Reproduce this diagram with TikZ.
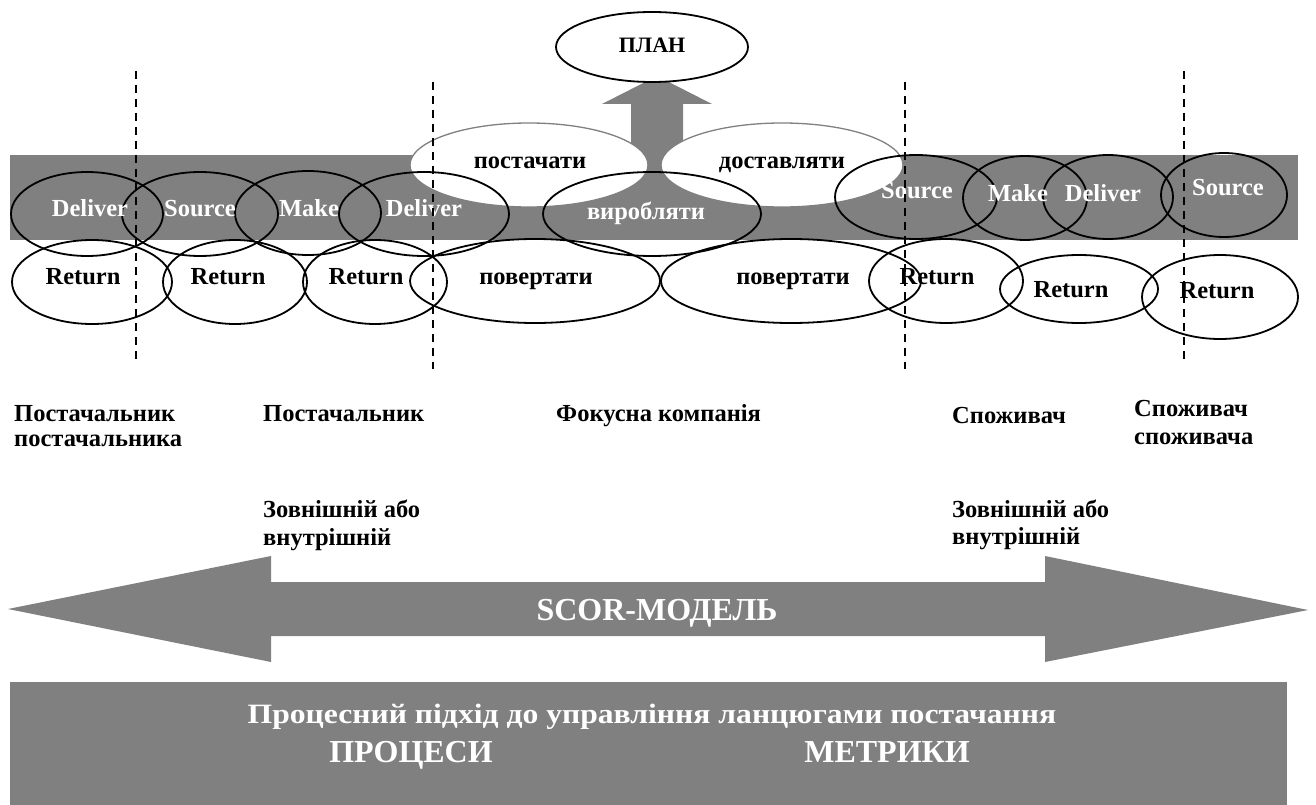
\documentclass[tikz,border=0pt]{standalone}
\usepackage{fontspec}
\usepackage{graphicx}
\setmainfont{Liberation Serif}
\usetikzlibrary{shapes.geometric}
\definecolor{band}{HTML}{808080}
\begin{document}
\begin{tikzpicture}[x=1pt,y=-1pt,
  ell/.style={ellipse, draw=black, line width=1.8pt, inner sep=0pt},
  wel/.style={ellipse, draw=band, fill=white, line width=1.3pt, inner sep=0pt},
  txt/.style={font=\fontsize{24.5}{28}\selectfont\bfseries, inner sep=0pt, text height=16pt, text depth=0pt},
  wt/.style={txt, text=white},
  bt/.style={txt, text=black},
  lbl/.style={font=\fontsize{24.5}{28}\selectfont\bfseries, inner sep=0pt, anchor=base west},
  big/.style={font=\fontsize{#1}{#1}\selectfont\bfseries, text=white, inner sep=0pt, anchor=base},
  dsh/.style={line width=1.8pt, dash pattern=on 8pt off 6pt},
]
\useasboundingbox[fill=white] (0,0) rectangle (1316,805);

% gray band
\fill[band] (10,155) rectangle (1298,240);
% up arrow to plan
\fill[band] (631,156) -- (631,104) -- (602,104) -- (657,76) -- (712,104) -- (683,104) -- (683,156) -- cycle;

% white ellipses
\node[wel, minimum width=238pt, minimum height=84pt] (pos) at (529,165) {};
\node[wel, minimum width=242pt, minimum height=84pt] (dos) at (782,165) {};

% top row ellipses
\node[ell, minimum width=152pt, minimum height=84pt] (d1) at (87,214) {};
\node[ell, minimum width=156pt, minimum height=84pt] (s1) at (200,214) {};
\node[ell, minimum width=146pt, minimum height=84pt] (m1) at (308,213) {};
\node[ell, minimum width=170pt, minimum height=84pt] (d2) at (424,214) {};
\node[ell, minimum width=218pt, minimum height=84pt] (vy) at (652,214) {};
\node[ell, minimum width=162pt, minimum height=84pt] (s2) at (916,197) {};
\node[ell, minimum width=124pt, minimum height=84pt] (m2) at (1025,198) {};
\node[ell, minimum width=130pt, minimum height=84pt] (d3) at (1108,197) {};
\node[ell, minimum width=126pt, minimum height=84pt] (s3) at (1224,195) {};

% return row ellipses
\node[ell, minimum width=160pt, minimum height=84pt] (r1) at (92,282) {};
\node[ell, minimum width=144pt, minimum height=84pt] (r2) at (235,282) {};
\node[ell, minimum width=144pt, minimum height=84pt] (r3) at (375,282) {};
\node[ell, minimum width=250pt, minimum height=84pt] (p1) at (535,281) {};
\node[ell, minimum width=260pt, minimum height=84pt] (p2) at (791,281) {};
\node[ell, minimum width=154pt, minimum height=84pt] (r4) at (946,281) {};
\node[ell, minimum width=158pt, minimum height=68pt] (r5) at (1079,289) {};
\node[ell, minimum width=156pt, minimum height=84pt] (r6) at (1220,297) {};

% plan
\node[ell, fill=white, minimum width=192pt, minimum height=70pt] (plan) at (652,47) {};
\node[font=\fontsize{22}{26}\selectfont\bfseries, inner sep=0pt, anchor=base] (plant) at (652,53) {ПЛАН};

% texts in ellipses
\node[bt] (tpos) at (530,161) {постачати};
\node[bt] (tdos) at (782,161) {доставляти};
\node[wt] (td1) at (90,208) {Deliver};
\node[wt] (ts1) at (200,208) {Source};
\node[wt] (tm1) at (309,208) {Make};
\node[wt] (td2) at (424,208) {Deliver};
\node[wt] (tvy) at (646,211) {виробляти};
\node[wt] (ts2) at (917,190) {Source};
\node[wt] (tm2) at (1018,193) {Make};
\node[wt] (td3) at (1103,193) {Deliver};
\node[wt] (ts3) at (1228,188) {Source};

\node[bt] (tr1) at (83,276) {Return};
\node[bt] (tr2) at (228,276) {Return};
\node[bt] (tr3) at (366,276) {Return};
\node[bt] (tp1) at (536,276) {повертати};
\node[bt] (tp2) at (793,276) {повертати};
\node[bt] (tr4) at (937,276) {Return};
\node[bt] (tr5) at (1071,289) {Return};
\node[bt] (tr6) at (1217,290) {Return};

% dashed separators
\coordinate (a1) at (136,71);  \coordinate (b1) at (136,360);
\coordinate (a2) at (433,82);  \coordinate (b2) at (433,369);
\coordinate (a3) at (905,82);  \coordinate (b3) at (905,369);
\coordinate (a4) at (1184,71); \coordinate (b4) at (1184,360);
\draw[dsh] (a1) -- (b1);
\draw[dsh] (a2) -- (b2);
\draw[dsh] (a3) -- (b3);
\draw[dsh] (a4) -- (b4);

% participant labels
\node[lbl] (l1a) at (14,421) {Постачальник};
\node[lbl] (l1b) at (14,446) {постачальника};
\node[lbl] (l2) at (263,421) {Постачальник};
\node[lbl] (l3) at (556,421) {Фокусна компанія};
\node[lbl] (l4) at (952,423) {Споживач};
\node[lbl] (l5a) at (1134,416) {Споживач};
\node[lbl] (l5b) at (1134,444) {споживача};
\node[lbl] (z1a) at (263,517) {Зовнішній або};
\node[lbl] (z1b) at (263,545) {внутрішній};
\node[lbl] (z2a) at (952,517) {Зовнішній або};
\node[lbl] (z2b) at (952,544) {внутрішній};

% double arrow
\fill[band] (8,609) -- (271,556) -- (271,582) -- (1045,582) -- (1045,556) -- (1308,610)
  -- (1045,662) -- (1045,636) -- (271,636) -- (271,662) -- cycle;
\node[big=32] (scor) at (657,620) {SCOR-МОДЕЛЬ};

% bottom box
\fill[band] (10,682) rectangle (1287,805);
\node[big=28] (title) at (652,723) {\scalebox{1.13}[1]{Процесний підхід до управління ланцюгами постачання}};
\node[big=32] (proc) at (411,762) {ПРОЦЕСИ};
\node[big=32] (metr) at (887,762) {МЕТРИКИ};
\end{tikzpicture}
\end{document}
